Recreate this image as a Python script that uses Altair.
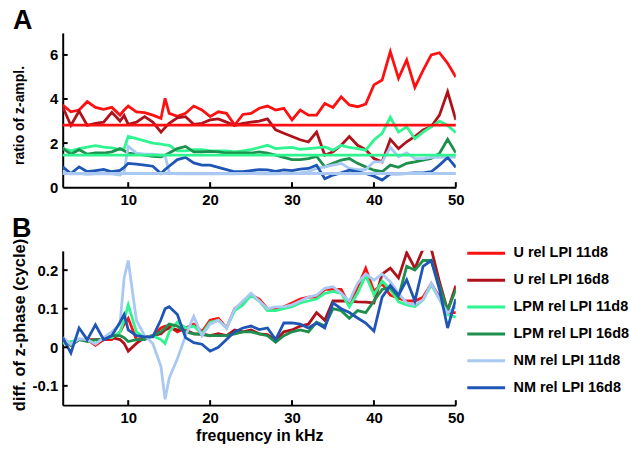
import altair as alt
import pandas as pd

# frequency grid (kHz)
freq = [2, 3, 4, 5, 6, 7, 8, 9, 9.5, 10, 11, 12, 13, 14, 14.5, 15, 16, 17, 18, 19, 20,
        21, 22, 23, 24, 25, 26, 27, 28, 29, 30, 31, 32, 33, 34, 35, 36, 37, 38, 39, 40,
        41, 42, 43, 44, 45, 46, 47, 48, 49, 50]

names = ["U rel LPI 11d8", "U rel LPI 16d8", "LPM rel LPI 11d8",
         "LPM rel LPI 16d8", "NM rel LPI 11d8", "NM rel LPI 16d8"]
colors = ["#ff1010", "#b0121b", "#2ef58f", "#1f8f4e", "#a9c8f2", "#1f56b5"]

# tick values
x_ticks = [10, 20, 30, 40, 50]
amp_ticks = [0, 2, 4, 6]
ph_ticks = [-0.1, 0, 0.1, 0.2]

# Panel A: ratio of z-amplitude
amp_U11 = [3.73, 3.42, 3.5, 3.88, 3.62, 3.53, 3.62, 3.27, 3.5, 3.68, 3.42, 3.38, 3.27, 3.12, 4.03, 3.35, 3.22, 3.35, 3.68, 3.5, 3.2,
           3.42, 3.35, 2.82, 3.3, 3.35, 3.58, 3.68, 3.5, 3.58, 3.05, 3.5, 3.27, 3.27, 3.8, 3.62, 4.1, 3.73, 3.65, 3.77, 4.64,
           4.86, 6.15, 4.94, 5.77, 4.53, 5.3, 6.0, 6.1, 5.62, 5.0]
amp_U16 = [3.65, 2.8, 3.45, 2.8, 2.9, 2.95, 3.4, 3.0, 3.25, 2.85, 2.95, 3.2, 2.95, 2.5, 2.7, 2.9, 3.15, 3.2, 2.85, 2.9, 3.05,
           3.1, 2.95, 2.8, 2.9, 2.95, 3.0, 3.1, 2.6, 2.45, 2.3, 2.15, 2.05, 2.5, 1.45, 1.6, 1.9, 2.3, 1.9, 1.7, 1.3,
           1.15, 2.17, 1.75, 2.06, 2.3, 2.6, 2.75, 3.27, 4.33, 3.05]
amp_LPM11 = [1.76, 1.65, 1.75, 1.82, 1.88, 1.82, 1.78, 1.7, 1.75, 2.3, 2.2, 2.1, 2.0, 1.95, 1.92, 1.9, 1.65, 1.65, 1.7, 1.7, 1.65,
             1.65, 1.65, 1.6, 1.65, 1.7, 1.8, 1.9, 1.75, 1.78, 1.8, 1.72, 1.75, 1.78, 1.83, 1.68, 1.9, 1.8, 1.75, 1.68, 2.14,
             2.44, 3.17, 2.5, 2.74, 2.2, 2.5, 2.74, 3.0, 2.8, 2.47]
amp_LPM16 = [1.76, 1.5, 1.7, 1.5, 1.55, 1.55, 1.6, 1.75, 1.65, 1.55, 1.5, 1.45, 1.4, 1.38, 1.45, 1.55, 1.75, 1.85, 1.6, 1.6, 1.62,
             1.6, 1.55, 1.55, 1.55, 1.55, 1.6, 1.55, 1.45, 1.35, 1.25, 1.25, 1.3, 1.4, 0.92, 1.08, 1.23, 1.3, 1.08, 0.92, 0.77,
             0.7, 1.0, 0.9, 1.08, 1.15, 1.23, 1.3, 1.53, 2.17, 1.56]
amp_NM11 = [0.75, 0.6, 0.62, 0.58, 0.6, 0.62, 0.6, 0.55, 0.7, 1.85, 1.55, 1.5, 1.5, 1.45, 1.45, 0.65, 0.6, 0.6, 0.62, 0.6, 0.62,
            0.6, 0.62, 0.6, 0.62, 0.63, 0.6, 0.62, 0.6, 0.62, 0.62, 0.65, 0.7, 0.85, 0.92, 1.0, 1.08, 0.85, 0.8, 0.8, 1.15,
            1.15, 1.8, 1.38, 1.56, 1.3, 1.3, 1.35, 1.35, 1.38, 1.35]
amp_NM16 = [0.92, 0.62, 0.92, 0.7, 0.75, 0.8, 0.7, 0.76, 0.9, 1.08, 1.05, 1.0, 0.95, 0.62, 0.8, 0.95, 1.25, 1.35, 1.1, 1.0, 1.0,
            0.9, 0.8, 0.7, 0.7, 0.75, 0.8, 0.78, 0.72, 0.78, 0.75, 0.82, 0.85, 1.0, 0.38, 0.55, 0.65, 0.77, 0.7, 0.62, 0.5,
            0.32, 0.6, 0.6, 0.62, 0.65, 0.65, 0.7, 1.0, 1.35, 0.9]

# reference levels drawn as horizontal lines in panel A
ref_series = ["U rel LPI 11d8", "LPM rel LPI 11d8", "NM rel LPI 11d8"]
ref_levels = [2.82, 1.45, 0.62]

# Panel B: difference of z-phase (cycle)
ph_U11 = [0.015, 0.01, 0.02, 0.02, 0.005, 0.02, 0.02, 0.04, 0.06, 0.075, 0.02, 0.025, 0.03, 0.05, 0.055, 0.055, 0.04, 0.05, 0.06, 0.04, 0.07,
          0.075, 0.05, 0.1, 0.115, 0.135, 0.125, 0.1, 0.1, 0.105, 0.115, 0.125, 0.13, 0.13, 0.15, 0.15, 0.15, 0.11, 0.155, 0.205, 0.145,
          0.165, 0.135, 0.127, 0.12, 0.12, 0.13, 0.165, 0.13, 0.09, 0.09]
ph_U16 = [0.02, 0.005, 0.02, 0.02, 0.02, 0.02, 0.025, 0.02, 0.01, -0.01, 0.01, 0.025, 0.03, 0.035, 0.045, 0.05, 0.045, 0.045, 0.035, 0.035, 0.03,
          0.035, 0.03, 0.045, 0.04, 0.045, 0.035, 0.033, 0.018, 0.04, 0.045, 0.055, 0.06, 0.09, 0.07, 0.12, 0.12, 0.12, 0.118, 0.117, 0.115,
          0.19, 0.205, 0.18, 0.245, 0.205, 0.255, 0.255, 0.17, 0.095, 0.16]
ph_LPM11 = [0.01, 0.015, 0.02, 0.02, 0.01, 0.025, 0.025, 0.04, 0.07, 0.11, 0.04, 0.025, 0.03, 0.02, 0.01, 0.04, 0.065, 0.05, 0.055, 0.035, 0.065,
            0.07, 0.05, 0.095, 0.11, 0.135, 0.12, 0.095, 0.095, 0.1, 0.105, 0.115, 0.12, 0.125, 0.14, 0.145, 0.14, 0.105, 0.14, 0.187, 0.136,
            0.172, 0.15, 0.118, 0.11, 0.106, 0.123, 0.162, 0.125, 0.085, 0.078]
ph_LPM16 = [0.02, 0.005, 0.02, 0.015, 0.02, 0.02, 0.03, 0.03, 0.025, 0.015, 0.02, 0.02, 0.03, 0.04, 0.05, 0.06, 0.055, 0.04, 0.035, 0.033, 0.03,
            0.03, 0.03, 0.035, 0.04, 0.04, 0.035, 0.03, 0.013, 0.03, 0.04, 0.045, 0.04, 0.065, 0.055, 0.1, 0.095, 0.075, 0.095, 0.09, 0.12,
            0.15, 0.155, 0.13, 0.21, 0.2, 0.225, 0.225, 0.16, 0.095, 0.15]
ph_NM11 = [0.025, 0.008, 0.022, 0.02, 0.008, 0.025, 0.04, 0.06, 0.18, 0.225, 0.07, 0.03, 0.01, -0.05, -0.135, -0.08, -0.03, 0.03, 0.08, 0.03, 0.06,
           0.07, 0.05, 0.1, 0.12, 0.14, 0.12, 0.1, 0.105, 0.105, 0.11, 0.12, 0.13, 0.135, 0.153, 0.157, 0.14, 0.12, 0.166, 0.19, 0.174,
           0.19, 0.17, 0.14, 0.115, 0.11, 0.123, 0.166, 0.125, 0.089, 0.105]
ph_NM16 = [0.025, -0.015, 0.05, 0.02, 0.058, 0.02, 0.03, 0.065, 0.085, 0.045, 0.03, 0.027, 0.027, 0.072, 0.1, 0.105, 0.085, 0.025, 0.012, 0.008, -0.01,
           0.0, 0.02, 0.04, 0.05, 0.055, 0.046, 0.05, 0.02, 0.063, 0.063, 0.06, 0.05, 0.063, 0.05, 0.115, 0.1, 0.09, 0.076, 0.063, 0.042,
           0.13, 0.16, 0.135, 0.175, 0.12, 0.21, 0.225, 0.15, 0.05, 0.125]

amp_series = [amp_U11, amp_U16, amp_LPM11, amp_LPM16, amp_NM11, amp_NM16]
ph_series = [ph_U11, ph_U16, ph_LPM11, ph_LPM16, ph_NM11, ph_NM16]


def long_table(series_list):
    rows = []
    for name, vals in zip(names, series_list):
        for f, v in zip(freq, vals):
            rows.append({"freq": f, "value": v, "series": name})
    return pd.DataFrame(rows)


amp_df = long_table(amp_series)
ph_df = long_table(ph_series)
ref_df = pd.DataFrame({"series": ref_series, "value": ref_levels})
xt_df = pd.DataFrame({"t": x_ticks})
amp_t_df = pd.DataFrame({"t": amp_ticks[1:]})
ph_t_df = pd.DataFrame({"t": ph_ticks})

FONT = "Liberation Sans"
W, H = 395, 155
LW = 2.8
TICK = 5

color_scale = alt.Scale(domain=names, range=colors)
x_scale = alt.Scale(domain=[2, 50], nice=False, zero=False)
amp_scale = alt.Scale(domain=[0, 7], nice=False)
ph_scale = alt.Scale(domain=[-0.15, 0.25], nice=False)

# axis definitions (shared by every layer of a panel so that they merge cleanly)
x_axis_top = alt.Axis(values=x_ticks, title=None, labelFlush=False)
y_axis_top = alt.Axis(values=amp_ticks, title=None)
x_axis_bot = alt.Axis(values=x_ticks, title="frequency in kHz", titleFontSize=16, titleLimit=400,
                      titlePadding=3, labelFlush=False)
y_axis_bot = alt.Axis(values=ph_ticks, title="diff. of z-phase (cycle)", titleFontSize=16.5, titleLimit=400,
                      labelExpr="datum.value == 0 ? '0' : (datum.value < 0 ? '-' + format(-datum.value, '.1f') : format(datum.value, '.1f'))",
                      titleX=-43.5, titleY=74, titleAngle=-90,
                      titleAlign="center", titleBaseline="middle")


def inward_ticks(y_df, y_scale, x_axis, y_axis):
    xt = alt.Chart(xt_df).mark_rule(color="black", strokeWidth=2).encode(
        x=alt.X("t:Q", scale=x_scale, axis=x_axis), y=alt.value(H), y2=alt.value(H - TICK))
    yt = alt.Chart(y_df).mark_rule(color="black", strokeWidth=2).encode(
        y=alt.Y("t:Q", scale=y_scale, axis=y_axis), x=alt.value(0), x2=alt.value(TICK))
    return [xt, yt]


# ---------- panel A ----------
top_lines = alt.Chart(amp_df).mark_line(strokeWidth=LW, clip=True).encode(
    x=alt.X("freq:Q", scale=x_scale, axis=x_axis_top),
    y=alt.Y("value:Q", scale=amp_scale, axis=y_axis_top),
    color=alt.Color("series:N", scale=color_scale, legend=None),
)
top_rules = alt.Chart(ref_df).mark_rule(strokeWidth=LW).encode(
    y=alt.Y("value:Q", scale=amp_scale, axis=y_axis_top),
    color=alt.Color("series:N", scale=color_scale, legend=None),
)
label_a = alt.Chart(pd.DataFrame({"label": ["A"]})).mark_text(
    font=FONT, fontSize=27, fontWeight="bold", align="left", baseline="alphabetic", color="black"
).encode(text="label:N", x=alt.value(-50), y=alt.value(-4))
# y-axis title of panel A drawn as rotated text
title_a = alt.Chart(pd.DataFrame({"label": ["ratio of z-ampl."]})).mark_text(
    font=FONT, fontSize=14, fontWeight="bold", align="center", baseline="middle", color="black", angle=270
).encode(text="label:N", x=alt.value(-43), y=alt.value(83))

top = alt.layer(top_lines, top_rules, *inward_ticks(amp_t_df, amp_scale, x_axis_top, y_axis_top),
                label_a, title_a).properties(width=W, height=H)

# ---------- panel B ----------
bottom_lines = alt.Chart(ph_df).mark_line(strokeWidth=LW, clip=True).encode(
    x=alt.X("freq:Q", scale=x_scale, axis=x_axis_bot),
    y=alt.Y("value:Q", scale=ph_scale, axis=y_axis_bot),
    color=alt.Color("series:N", scale=color_scale,
                    legend=alt.Legend(title=None, orient="none", legendX=405, legendY=-18,
                                      padding=0, symbolType="stroke", symbolSize=1444, symbolStrokeWidth=3,
                                      labelFont=FONT, labelFontSize=14.5, labelFontWeight="bold",
                                      labelColor="black", labelOffset=7, rowPadding=-1)),
)
label_b = alt.Chart(pd.DataFrame({"label": ["B"]})).mark_text(
    font=FONT, fontSize=27, fontWeight="bold", align="left", baseline="alphabetic", color="black"
).encode(text="label:N", x=alt.value(-51), y=alt.value(-14))

bottom = alt.layer(bottom_lines, *inward_ticks(ph_t_df, ph_scale, x_axis_bot, y_axis_bot),
                   label_b).properties(width=W, height=H)

chart = alt.vconcat(top, bottom, spacing=8).resolve_scale(
    color="independent"
).properties(
    padding={"left": 11, "top": 6, "right": 0, "bottom": 0}
).configure_view(stroke=None).configure_axis(
    domainColor="black", domainWidth=2, ticks=False, grid=False,
    labelFont=FONT, labelFontSize=15, labelFontWeight="bold", labelColor="black", labelPadding=5,
    titleFont=FONT, titleFontSize=14, titleFontWeight="bold", titleColor="black",
)

chart.save("out.html", embed_options={"renderer": "svg", "actions": False})
